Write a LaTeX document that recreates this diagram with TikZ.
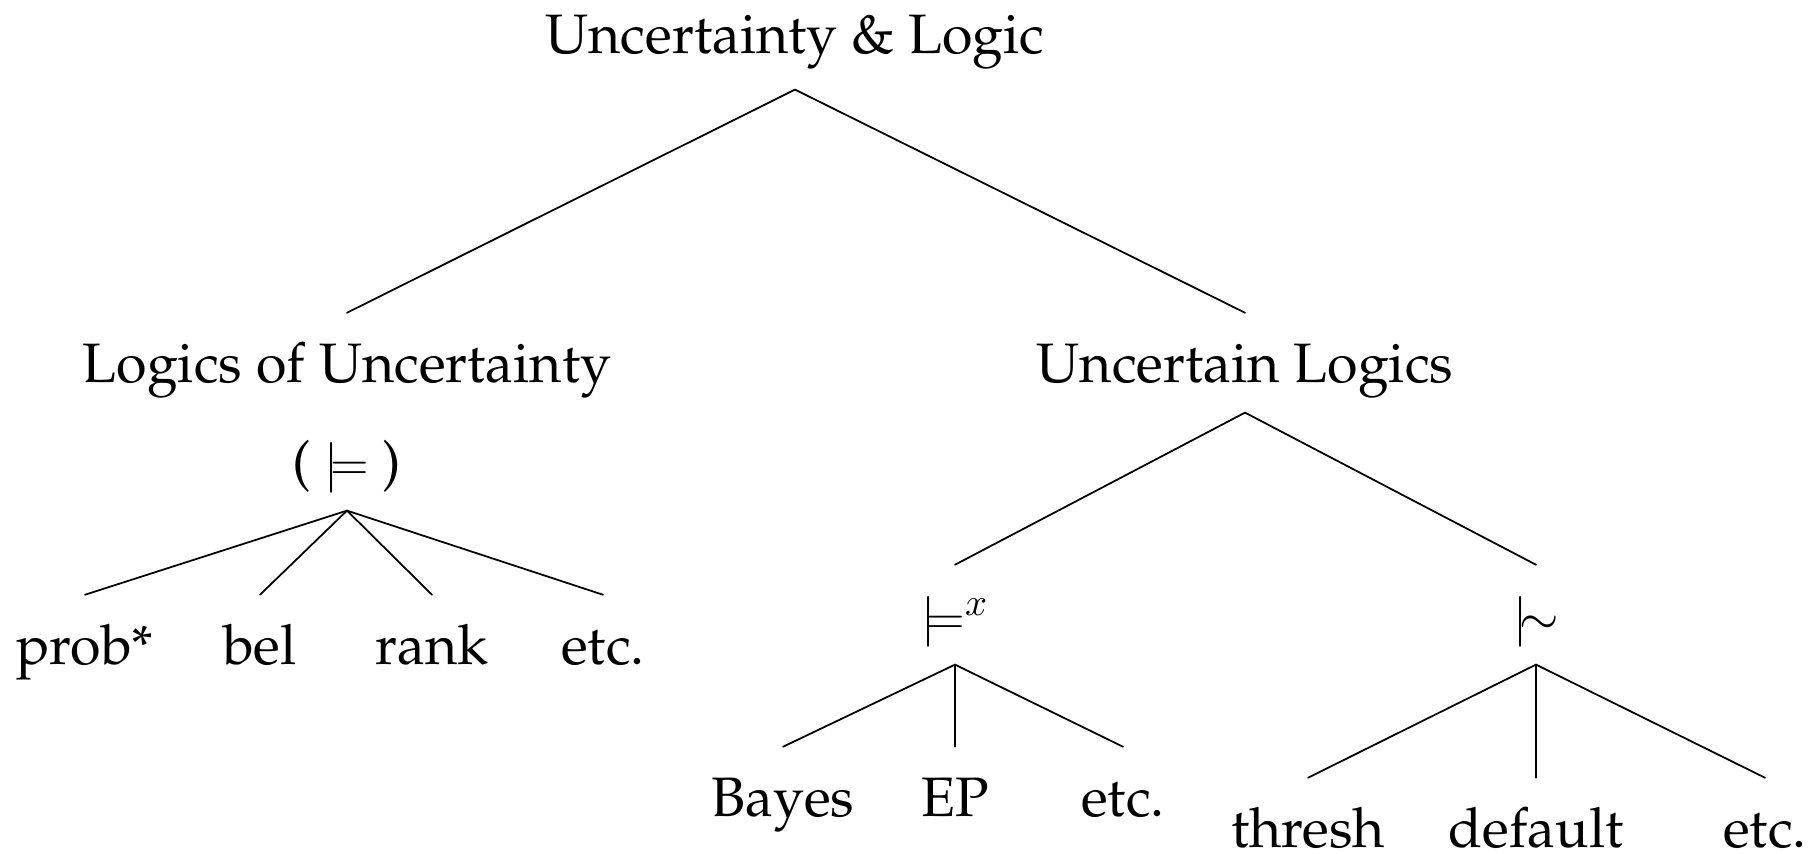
\documentclass[tikz,border=0pt]{standalone}
\usepackage[T1]{fontenc}
\usepackage{palatino}
\begin{document}
\begin{tikzpicture}[x=0.01cm,y=-0.01cm,line cap=round,
    lbl/.style={anchor=base,inner xsep=0pt,inner ysep=4.5pt,text height=15pt,text depth=4pt,
      font=\fontsize{15.8}{19}\selectfont},
    edge/.style={line width=0.5pt}]
  \useasboundingbox (0,0) rectangle (1812,853);
  % top level
  \node[lbl,inner ysep=6.2pt] (top) at (795,53) {Uncertainty \& Logic};
  \node[lbl] (lou) at (347,382) {Logics of Uncertainty};
  \node[lbl] (ul) at (1245,382) {Uncertain Logics};
  \draw[edge] (top.south) -- (lou.north);
  \draw[edge] (top.south) -- (ul.north);
  % logics of uncertainty
  \node[lbl] (mod) at (347,480) {( $\models$ )};
  \node[lbl] (prob) at (85,664) {prob*};
  \node[lbl] (bel) at (260,664) {bel};
  \node[lbl] (rank) at (432,664) {rank};
  \node[lbl] (etcA) at (603,664) {etc.};
  \foreach \n in {prob,bel,rank,etcA}
    \draw[edge] (mod.south) -- (\n.north);
  % uncertain logics
  \node[lbl] (modx) at (955,634) {$\models^{x}$};
  \node[lbl] (snake) at (1536,634) {$\mathrel{|}\joinrel\mathrel{\sim}$};
  \draw[edge] (ul.south) -- (modx.north);
  \draw[edge] (ul.south) -- (snake.north);
  \node[lbl] (bayes) at (783,816) {Bayes};
  \node[lbl] (ep) at (955,816) {EP};
  \node[lbl] (etcB) at (1123,816) {etc.};
  \foreach \n in {bayes,ep,etcB}
    \draw[edge] (modx.south) -- (\n.north);
  \node[lbl] (thresh) at (1308,847) {thresh};
  \node[lbl] (dflt) at (1536,847) {default};
  \node[lbl] (etcC) at (1765,847) {etc.};
  \foreach \n in {thresh,dflt,etcC}
    \draw[edge] (snake.south) -- (\n.north);
\end{tikzpicture}
\end{document}
